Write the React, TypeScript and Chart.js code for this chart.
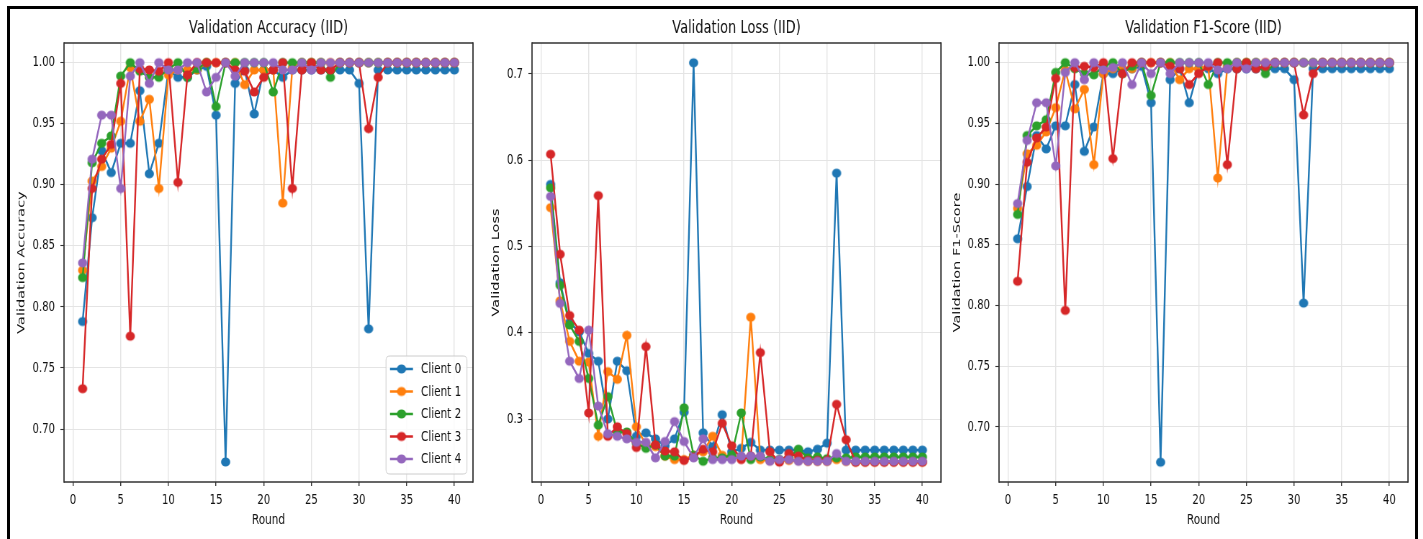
import React, { useEffect, useRef } from 'react';
import { Chart, registerables } from 'chart.js';

Chart.register(...registerables);

// ---------------- data ----------------
const ROUNDS = [1, 2, 3, 4, 5, 6, 7, 8, 9, 10, 11, 12, 13, 14, 15, 16, 17, 18, 19, 20,
  21, 22, 23, 24, 25, 26, 27, 28, 29, 30, 31, 32, 33, 34, 35, 36, 37, 38, 39, 40];

const CLIENTS = ['Client 0', 'Client 1', 'Client 2', 'Client 3', 'Client 4'];
const COLORS = ['#1f77b4', '#ff7f0e', '#2ca02c', '#d62728', '#9467bd'];

const X_TICKS = [0, 5, 10, 15, 20, 25, 30, 35, 40];
const X_TICK_LABELS = ['0', '5', '10', '15', '20', '25', '30', '35', '40'];

const ACC_TICKS = [0.70, 0.75, 0.80, 0.85, 0.90, 0.95, 1.00];
const ACC_TICK_LABELS = ['0.70', '0.75', '0.80', '0.85', '0.90', '0.95', '1.00'];
const LOSS_TICKS = [0.3, 0.4, 0.5, 0.6, 0.7];
const LOSS_TICK_LABELS = ['0.3', '0.4', '0.5', '0.6', '0.7'];
const F1_TICKS = [0.70, 0.75, 0.80, 0.85, 0.90, 0.95, 1.00];
const F1_TICK_LABELS = ['0.70', '0.75', '0.80', '0.85', '0.90', '0.95', '1.00'];

const ACC_C0 = [0.788, 0.873, 0.928, 0.910, 0.934, 0.934, 0.977, 0.909, 0.934, 0.994,
  0.988, 0.988, 0.994, 0.997, 0.957, 0.673, 0.983, 0.994, 0.958, 0.994,
  0.994, 0.988, 0.994, 0.994, 0.994, 0.994, 0.994, 0.994, 0.994, 0.983,
  0.782, 0.994, 0.994, 0.994, 0.994, 0.994, 0.994, 0.994, 0.994, 0.994];
const ACC_C1 = [0.830, 0.903, 0.915, 0.930, 0.952, 0.996, 0.952, 0.970, 0.897, 0.990,
  0.994, 0.994, 0.994, 1.000, 1.000, 1.000, 1.000, 0.982, 0.994, 0.994,
  0.994, 0.885, 0.996, 1.000, 1.000, 1.000, 1.000, 1.000, 1.000, 1.000,
  1.000, 1.000, 1.000, 1.000, 1.000, 1.000, 1.000, 1.000, 1.000, 1.000];
const ACC_C2 = [0.824, 0.918, 0.934, 0.940, 0.989, 1.000, 0.993, 0.988, 0.988, 0.995,
  1.000, 0.988, 0.995, 1.000, 0.964, 1.000, 1.000, 1.000, 1.000, 1.000,
  0.976, 1.000, 1.000, 1.000, 1.000, 1.000, 0.988, 1.000, 1.000, 1.000,
  1.000, 1.000, 1.000, 1.000, 1.000, 1.000, 1.000, 1.000, 1.000, 1.000];
const ACC_C3 = [0.733, 0.897, 0.921, 0.933, 0.983, 0.776, 0.995, 0.994, 0.993, 1.000,
  0.902, 0.990, 1.000, 1.000, 1.000, 1.000, 0.994, 0.993, 0.976, 0.988,
  0.994, 1.000, 0.897, 0.994, 1.000, 0.994, 0.994, 1.000, 1.000, 1.000,
  0.946, 0.988, 1.000, 1.000, 1.000, 1.000, 1.000, 1.000, 1.000, 1.000];
const ACC_C4 = [0.836, 0.921, 0.957, 0.957, 0.897, 0.989, 1.000, 0.983, 1.000, 0.994,
  0.994, 1.000, 1.000, 0.976, 0.988, 1.000, 0.989, 1.000, 1.000, 1.000,
  1.000, 0.994, 0.994, 1.000, 0.994, 1.000, 1.000, 1.000, 1.000, 1.000,
  1.000, 1.000, 1.000, 1.000, 1.000, 1.000, 1.000, 1.000, 1.000, 1.000];

const LOSS_C0 = [0.572, 0.458, 0.412, 0.401, 0.376, 0.367, 0.300, 0.367, 0.356, 0.280,
  0.284, 0.277, 0.269, 0.277, 0.308, 0.713, 0.284, 0.268, 0.305, 0.262,
  0.266, 0.273, 0.264, 0.264, 0.264, 0.264, 0.264, 0.262, 0.265, 0.272,
  0.585, 0.264, 0.264, 0.264, 0.264, 0.264, 0.264, 0.264, 0.264, 0.264];
const LOSS_C1 = [0.545, 0.437, 0.390, 0.367, 0.366, 0.280, 0.355, 0.346, 0.397, 0.291,
  0.270, 0.268, 0.257, 0.253, 0.253, 0.258, 0.262, 0.280, 0.258, 0.256,
  0.256, 0.418, 0.253, 0.252, 0.252, 0.252, 0.252, 0.251, 0.251, 0.251,
  0.253, 0.251, 0.250, 0.250, 0.250, 0.250, 0.250, 0.250, 0.250, 0.250];
const LOSS_C2 = [0.568, 0.455, 0.409, 0.390, 0.347, 0.293, 0.326, 0.285, 0.285, 0.272,
  0.266, 0.270, 0.257, 0.257, 0.313, 0.258, 0.251, 0.255, 0.255, 0.258,
  0.307, 0.253, 0.256, 0.253, 0.253, 0.255, 0.265, 0.255, 0.256, 0.254,
  0.255, 0.255, 0.256, 0.256, 0.256, 0.256, 0.256, 0.256, 0.256, 0.256];
const LOSS_C3 = [0.607, 0.491, 0.420, 0.403, 0.307, 0.559, 0.280, 0.291, 0.283, 0.267,
  0.384, 0.270, 0.263, 0.262, 0.252, 0.256, 0.265, 0.262, 0.295, 0.269,
  0.253, 0.257, 0.377, 0.262, 0.250, 0.260, 0.257, 0.252, 0.252, 0.252,
  0.317, 0.276, 0.250, 0.250, 0.250, 0.250, 0.250, 0.250, 0.250, 0.250];
const LOSS_C4 = [0.558, 0.434, 0.367, 0.347, 0.403, 0.315, 0.283, 0.280, 0.277, 0.273,
  0.273, 0.255, 0.274, 0.297, 0.274, 0.255, 0.277, 0.253, 0.253, 0.253,
  0.257, 0.257, 0.257, 0.251, 0.253, 0.253, 0.251, 0.251, 0.251, 0.251,
  0.260, 0.251, 0.251, 0.251, 0.251, 0.251, 0.251, 0.251, 0.251, 0.251];

const F1_C0 = [0.855, 0.898, 0.940, 0.929, 0.948, 0.948, 0.982, 0.927, 0.947, 0.991,
  0.991, 0.995, 0.995, 0.997, 0.967, 0.671, 0.986, 0.995, 0.967, 0.995,
  0.995, 0.991, 0.995, 0.995, 0.995, 0.995, 0.995, 0.995, 0.995, 0.986,
  0.802, 0.995, 0.995, 0.995, 0.995, 0.995, 0.995, 0.995, 0.995, 0.995];
const F1_C1 = [0.880, 0.925, 0.932, 0.943, 0.963, 0.994, 0.962, 0.978, 0.916, 0.991,
  0.995, 0.995, 0.995, 1.000, 1.000, 1.000, 1.000, 0.986, 0.995, 0.995,
  0.997, 0.905, 0.997, 1.000, 1.000, 1.000, 1.000, 1.000, 1.000, 1.000,
  1.000, 1.000, 1.000, 1.000, 1.000, 1.000, 1.000, 1.000, 1.000, 1.000];
const F1_C2 = [0.875, 0.940, 0.948, 0.953, 0.992, 1.000, 0.995, 0.991, 0.990, 0.997,
  1.000, 0.991, 0.997, 1.000, 0.973, 1.000, 1.000, 1.000, 1.000, 1.000,
  0.982, 1.000, 1.000, 1.000, 1.000, 1.000, 0.991, 1.000, 1.000, 1.000,
  1.000, 1.000, 1.000, 1.000, 1.000, 1.000, 1.000, 1.000, 1.000, 1.000];
const F1_C3 = [0.820, 0.918, 0.938, 0.947, 0.987, 0.796, 0.996, 0.997, 0.996, 1.000,
  0.921, 0.991, 1.000, 1.000, 1.000, 1.000, 0.997, 0.995, 0.982, 0.991,
  0.997, 1.000, 0.916, 0.995, 1.000, 0.995, 0.997, 1.000, 1.000, 1.000,
  0.957, 0.991, 1.000, 1.000, 1.000, 1.000, 1.000, 1.000, 1.000, 1.000];
const F1_C4 = [0.884, 0.936, 0.967, 0.967, 0.915, 0.992, 1.000, 0.986, 1.000, 0.994,
  0.996, 1.000, 0.982, 1.000, 0.991, 1.000, 0.991, 1.000, 1.000, 1.000,
  1.000, 0.994, 0.995, 1.000, 0.995, 1.000, 1.000, 1.000, 1.000, 1.000,
  1.000, 1.000, 1.000, 1.000, 1.000, 1.000, 1.000, 1.000, 1.000, 1.000];

// ---------------- styling / layout ----------------
const SQ = 0.72; // horizontal squeeze of the figure
const DISP_W = 468;
const CANVAS_H = 527;
const INT_W = Math.round(DISP_W / SQ);
const FONT = "'DejaVu Sans', sans-serif";
const TEXT = '#111111';
const GRID = '#e4e4e4';
const SPINE = '#333333';
const MARKER_R = 4.6;
const LINE_W = 2.4;

type PanelCfg = {
  title: string;
  yLabel: string;
  series: number[][];
  yMin: number;
  yMax: number;
  ticks: number[];
  tickLabels: string[];
  yTitlePad: number;
  legend: boolean;
  left: number;
};

const PANELS: PanelCfg[] = [
  { title: 'Validation Accuracy (IID)', yLabel: 'Validation Accuracy',
    series: [ACC_C0, ACC_C1, ACC_C2, ACC_C3, ACC_C4], yMin: 0.6566, yMax: 1.0161,
    ticks: ACC_TICKS, tickLabels: ACC_TICK_LABELS, yTitlePad: 8, legend: true, left: 10 },
  { title: 'Validation Loss (IID)', yLabel: 'Validation Loss',
    series: [LOSS_C0, LOSS_C1, LOSS_C2, LOSS_C3, LOSS_C4], yMin: 0.2270, yMax: 0.7359,
    ticks: LOSS_TICKS, tickLabels: LOSS_TICK_LABELS, yTitlePad: 17, legend: false, left: 478 },
  { title: 'Validation F1-Score (IID)', yLabel: 'Validation F1-Score',
    series: [F1_C0, F1_C1, F1_C2, F1_C3, F1_C4], yMin: 0.6547, yMax: 1.0162,
    ticks: F1_TICKS, tickLabels: F1_TICK_LABELS, yTitlePad: 8.3, legend: false, left: 945 },
];

function makeMarker(color: string): HTMLCanvasElement {
  const rx = MARKER_R / SQ;
  const ry = MARKER_R;
  const c = document.createElement('canvas');
  c.width = Math.ceil(rx * 2 + 2);
  c.height = Math.ceil(ry * 2 + 2);
  const ctx = c.getContext('2d')!;
  ctx.fillStyle = color;
  ctx.beginPath();
  ctx.ellipse(c.width / 2, c.height / 2, rx, ry, 0, 0, Math.PI * 2);
  ctx.fill();
  return c;
}

function Panel({ cfg }: { cfg: PanelCfg }) {
  const ref = useRef<HTMLCanvasElement>(null);

  useEffect(() => {
    const canvas = ref.current;
    if (!canvas) return;
    const markers = COLORS.map(makeMarker);

    const framePlugin = {
      id: 'frame',
      afterDatasetsDraw(chart: any) {
        const { ctx, chartArea: a } = chart;
        ctx.save();
        ctx.strokeStyle = SPINE;
        ctx.lineWidth = 1.3;
        ctx.beginPath();
        ctx.moveTo(a.left, a.top); ctx.lineTo(a.right, a.top);
        ctx.moveTo(a.left, a.bottom); ctx.lineTo(a.right, a.bottom);
        ctx.stroke();
        ctx.lineWidth = 1.3 / SQ;
        ctx.beginPath();
        ctx.moveTo(a.left, a.top - 0.65); ctx.lineTo(a.left, a.bottom + 0.65);
        ctx.moveTo(a.right, a.top - 0.65); ctx.lineTo(a.right, a.bottom + 0.65);
        ctx.stroke();
        ctx.restore();
      },
    };

    const titlePlugin = {
      id: 'ptitle',
      afterDraw(chart: any) {
        const { ctx, chartArea: a } = chart;
        ctx.save();
        ctx.font = `18px ${FONT}`;
        ctx.fillStyle = TEXT;
        ctx.textAlign = 'center';
        ctx.textBaseline = 'middle';
        ctx.fillText(cfg.title, (a.left + a.right) / 2, 18);
        ctx.restore();
      },
    };

    const legendPlugin = {
      id: 'plegend',
      afterDraw(chart: any) {
        if (!cfg.legend) return;
        const { ctx, chartArea: a } = chart;
        const w = 112.5, h = 118;
        const right = a.right - 8.3;
        const left = right - w;
        const bottom = a.bottom - 8;
        const top = bottom - h;
        ctx.save();
        ctx.fillStyle = 'rgba(255,255,255,0.85)';
        ctx.strokeStyle = '#cccccc';
        ctx.lineWidth = 1;
        const r = 4;
        ctx.beginPath();
        ctx.moveTo(left + r / SQ, top);
        ctx.lineTo(right - r / SQ, top);
        ctx.quadraticCurveTo(right, top, right, top + r);
        ctx.lineTo(right, bottom - r);
        ctx.quadraticCurveTo(right, bottom, right - r / SQ, bottom);
        ctx.lineTo(left + r / SQ, bottom);
        ctx.quadraticCurveTo(left, bottom, left, bottom - r);
        ctx.lineTo(left, top + r);
        ctx.quadraticCurveTo(left, top, left + r / SQ, top);
        ctx.closePath();
        ctx.fill();
        ctx.stroke();
        ctx.font = `14.5px ${FONT}`;
        ctx.textAlign = 'left';
        ctx.textBaseline = 'middle';
        CLIENTS.forEach((name, i) => {
          const cy = top + 13 + 22.5 * i;
          ctx.strokeStyle = COLORS[i];
          ctx.lineWidth = LINE_W;
          ctx.beginPath();
          ctx.moveTo(left + 5.6, cy);
          ctx.lineTo(left + 37.5, cy);
          ctx.stroke();
          const m = markers[i];
          ctx.drawImage(m, left + 21.5 - m.width / 2, cy - m.height / 2);
          ctx.fillStyle = TEXT;
          ctx.fillText(name, left + 48.6, cy + 0.5);
        });
        ctx.restore();
      },
    };

    const chart = new Chart(canvas, {
      type: 'line',
      data: {
        datasets: CLIENTS.map((name, i) => ({
          label: name,
          data: ROUNDS.map((r, k) => ({ x: r, y: cfg.series[i][k] })),
          borderColor: COLORS[i],
          backgroundColor: COLORS[i],
          borderWidth: LINE_W,
          pointStyle: markers[i] as any,
          pointRadius: MARKER_R,
          pointHoverRadius: MARKER_R,
          tension: 0,
          fill: false,
          order: 4 - i,
        })),
      },
      options: {
        animation: false,
        responsive: false,
        maintainAspectRatio: false,
        devicePixelRatio: 1,
        layout: { padding: { top: 33, left: 0, right: 7, bottom: 5 } },
        plugins: {
          legend: { display: false },
          tooltip: { enabled: false },
          title: { display: false },
        },
        scales: {
          x: {
            type: 'linear',
            min: -0.95,
            max: 41.95,
            afterBuildTicks: (s: any) => { s.ticks = X_TICKS.map((v) => ({ value: v })); },
            afterFit: (s: any) => { s.height = 50; },
            ticks: {
              font: { family: FONT, size: 14 },
              color: TEXT,
              padding: 5.5,
              maxRotation: 0,
              autoSkip: false,
              callback: (_v: any, idx: number) => X_TICK_LABELS[idx],
            },
            grid: { color: GRID, lineWidth: 1.4, tickLength: 4, tickColor: SPINE, tickWidth: 1.4 },
            border: { display: false },
            title: {
              display: true, text: 'Round', color: TEXT,
              font: { family: FONT, size: 14.5 }, padding: { top: 0, bottom: 3.3 },
            },
          },
          y: {
            type: 'linear',
            min: cfg.yMin,
            max: cfg.yMax,
            afterBuildTicks: (s: any) => { s.ticks = cfg.ticks.map((v) => ({ value: v })); },
            afterFit: (s: any) => { s.width = 75; },
            ticks: {
              font: { family: FONT, size: 14 },
              color: TEXT,
              padding: 7.5,
              autoSkip: false,
              callback: (_v: any, idx: number) => cfg.tickLabels[idx],
            },
            grid: { color: GRID, lineWidth: 1, tickLength: 5, tickColor: SPINE, tickWidth: 1.1 },
            border: { display: false },
            title: {
              display: true, text: cfg.yLabel, color: TEXT,
              font: { family: FONT, size: 14.5 }, padding: { top: cfg.yTitlePad, bottom: 0 },
            },
          },
        },
      } as any,
      plugins: [framePlugin, titlePlugin, legendPlugin],
    });
    return () => chart.destroy();
  }, [cfg]);

  return (
    <canvas
      ref={ref}
      width={INT_W}
      height={CANVAS_H}
      style={{ position: 'absolute', left: cfg.left, top: 10, width: DISP_W, height: CANVAS_H }}
    />
  );
}

export default function App() {
  return (
    <div style={{ position: 'absolute', left: 0, top: 0, width: 1423, height: 539, background: '#ffffff', overflow: 'hidden' }}>
      <div style={{ position: 'absolute', left: 7, top: 6, width: 1411, height: 600, border: '3px solid #000', boxSizing: 'border-box' }} />
      {PANELS.map((p) => <Panel key={p.title} cfg={p} />)}
    </div>
  );
}
